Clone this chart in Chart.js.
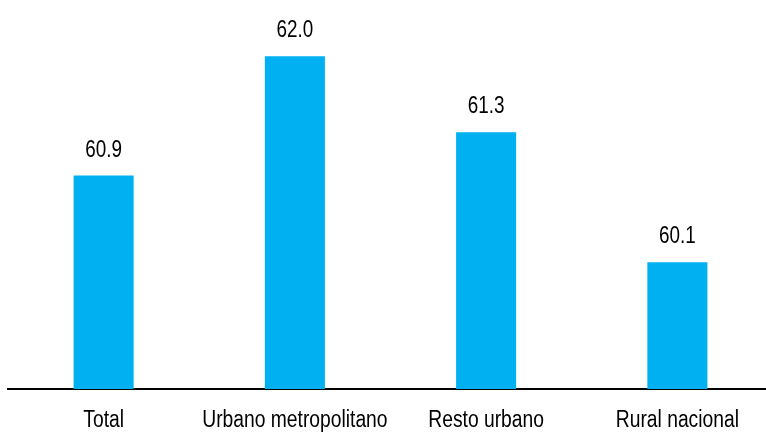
<!DOCTYPE html>
<html>
<head>
<meta charset="utf-8">
<script src="https://cdn.jsdelivr.net/npm/chart.js@4"></script>
<style>
  html, body { margin: 0; padding: 0; background: #fff; overflow: hidden; }
  #wrap { position: relative; width: 774px; height: 433px; }
</style>
</head>
<body>
<div id="wrap"><canvas id="grafico"></canvas></div>
<script>
const categorias = ['Total', 'Urbano metropolitano', 'Resto urbano', 'Rural nacional'];
const valores = [60.9, 62.0, 61.3, 60.1];

const fuente = "'Liberation Sans', Arial, sans-serif";
const estrecho = 0.82; // imita Arial Narrow

function textoEstrecho(c, txt, x, y, size) {
    c.save();
    c.font = size + "px " + fuente;
    c.fillStyle = '#000';
    c.textAlign = 'center';
    c.textBaseline = 'alphabetic';
    c.translate(x, y);
    c.scale(estrecho, 1);
    c.fillText(txt, 0, 0);
    c.restore();
}

// etiquetas de valor y de categoria
const etiquetas = {
    id: 'etiquetas',
    afterDraw(chart) {
        const c = chart.ctx;
        const escalaX = chart.scales.x;
        chart.getDatasetMeta(0).data.forEach((bar, i) => {
            textoEstrecho(c, valores[i].toFixed(1), bar.x, bar.y - 19, 23);
        });
        categorias.forEach((cat, i) => {
            textoEstrecho(c, cat, escalaX.getPixelForValue(i), escalaX.top + 38, 23.5);
        });
    }
};

const ctx = document.getElementById("grafico").getContext("2d");

const chart = new Chart(ctx, {
    type: 'bar',
    data: {
        labels: categorias,
        datasets: [{
            data: valores,
            backgroundColor: '#00B0F0',
            barPercentage: 0.314,
            categoryPercentage: 1
        }]
    },
    options: {
        responsive: true,
        maintainAspectRatio: false,
        animation: false,
        layout: { padding: { left: 8, right: 1, top: 0, bottom: 44 } },
        plugins: {
            legend: { display: false },
            tooltip: { enabled: false }
        },
        scales: {
            x: {
                grid: { display: false, drawTicks: false },
                border: { display: true, color: '#000', width: 2 },
                ticks: { display: false }
            },
            y: {
                display: false,
                min: 58.93,
                max: 62.52
            }
        }
    },
    plugins: [etiquetas]
});
</script>
</body>
</html>
